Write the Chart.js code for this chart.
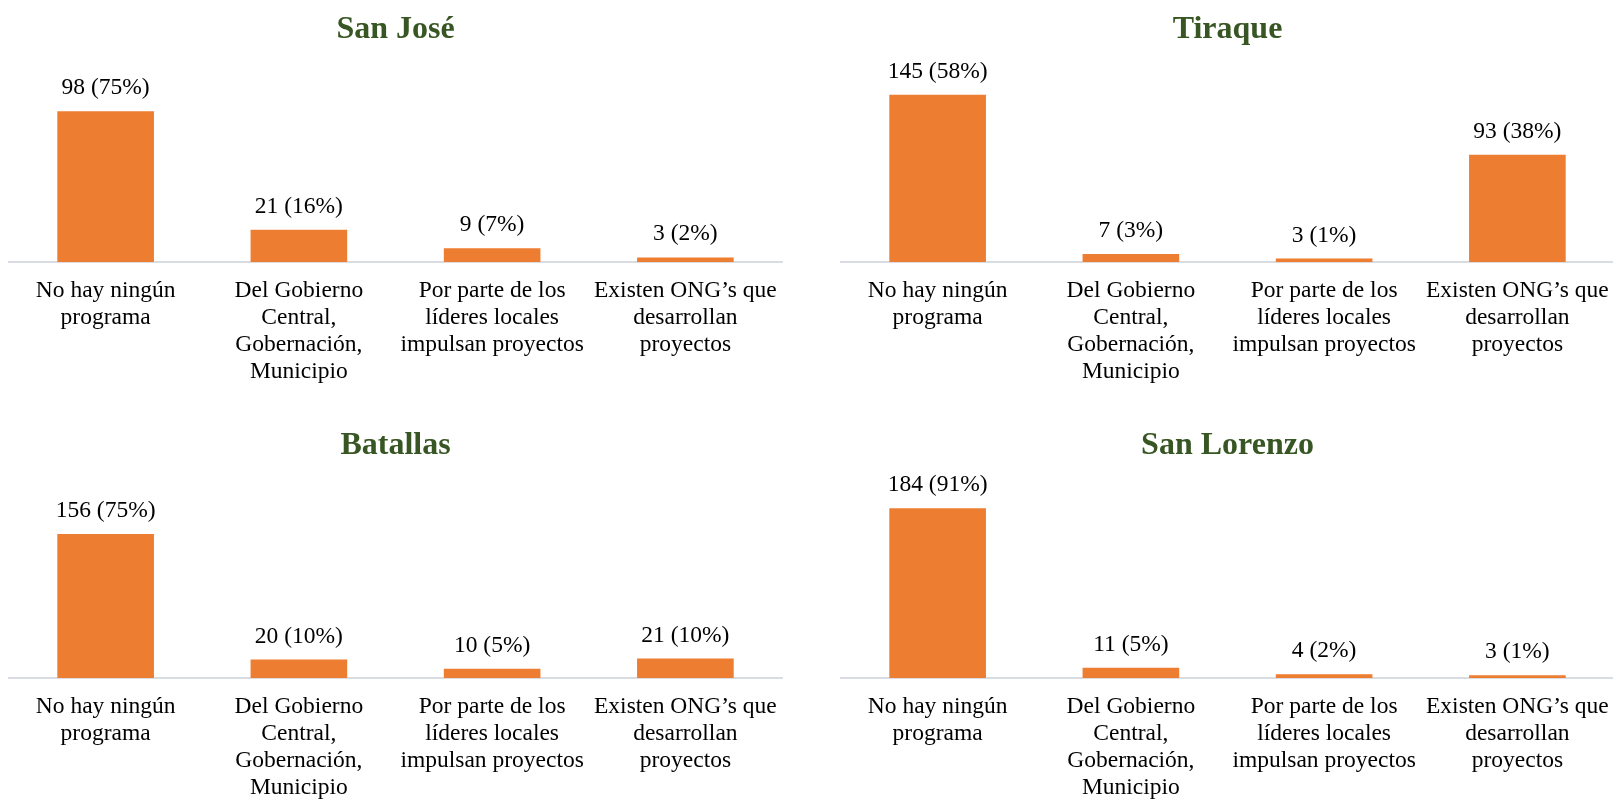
<!DOCTYPE html>
<html>
<head>
<meta charset="utf-8">
<script src="https://cdn.jsdelivr.net/npm/chart.js@4.4.1/dist/chart.umd.min.js"></script>
<style>
  html, body { margin: 0; padding: 0; background: #fff; width: 1613px; height: 800px; overflow: hidden; }
  canvas { position: absolute; }
  #c1 { left: 0; top: 0; }
  #c2 { left: 832px; top: 0; }
  #c3 { left: 0; top: 416px; }
  #c4 { left: 832px; top: 416px; }
</style>
</head>
<body>
<canvas id="c1" width="806" height="400"></canvas>
<canvas id="c2" width="806" height="400"></canvas>
<canvas id="c3" width="806" height="400"></canvas>
<canvas id="c4" width="806" height="400"></canvas>

<script>
// Data
const categories = [
    ['No hay ningún', 'programa'],
    ['Del Gobierno', 'Central,', 'Gobernación,', 'Municipio'],
    ['Por parte de los', 'líderes locales', 'impulsan proyectos'],
    ['Existen ONG’s que', 'desarrollan', 'proyectos']
];

const titles = ['San José', 'Tiraque', 'Batallas', 'San Lorenzo'];

const sanJoseValues = [98, 21, 9, 3];
const sanJosePct = [75, 16, 7, 2];

const tiraqueValues = [145, 7, 3, 93];
const tiraquePct = [58, 3, 1, 38];

const batallasValues = [156, 20, 10, 21];
const batallasPct = [75, 10, 5, 10];

const sanLorenzoValues = [184, 11, 4, 3];
const sanLorenzoPct = [91, 5, 2, 1];

// y axis maximum of each panel
const axisMax = [120, 160, 200, 200];

const ORANGE = '#ed7d31';
const GREEN = '#375623';
const SERIF = "'Liberation Serif', 'Times New Roman', serif";

// draws "n (p%)" above each bar
const valueLabels = {
    id: 'valueLabels',
    afterDatasetsDraw(chart) {
        const ctx = chart.ctx;
        const pct = chart.options.plugins.valueLabels.pct;
        const meta = chart.getDatasetMeta(0);
        const data = chart.data.datasets[0].data;
        ctx.save();
        ctx.font = '23.5px ' + SERIF;
        ctx.fillStyle = '#000';
        ctx.textAlign = 'center';
        ctx.textBaseline = 'alphabetic';
        meta.data.forEach((bar, i) => {
            ctx.fillText(data[i] + ' (' + pct[i] + '%)', bar.x, bar.y - 17);
        });
        ctx.restore();
    }
};

function makeChart(id, title, values, pct, max) {
    const ctx = document.getElementById(id).getContext('2d');
    return new Chart(ctx, {
        type: 'bar',
        data: {
            labels: categories,
            datasets: [{
                data: values,
                backgroundColor: ORANGE,
                borderWidth: 0,
                categoryPercentage: 1.0,
                barPercentage: 0.5
            }]
        },
        options: {
            responsive: false,
            animation: false,
            devicePixelRatio: 1,
            layout: { padding: { left: 9, right: 24, top: 0, bottom: 0 } },
            plugins: {
                legend: { display: false },
                tooltip: { enabled: false },
                title: {
                    display: true,
                    text: title,
                    color: GREEN,
                    font: { family: SERIF, size: 32, weight: 'bold', lineHeight: 1.2 },
                    padding: { top: 11, bottom: 28 }
                },
                valueLabels: { pct: pct }
            },
            scales: {
                x: {
                    grid: { display: false, drawTicks: false, tickLength: 0 },
                    border: { display: true, color: '#d9dde3', width: 2 },
                    ticks: {
                        color: '#000',
                        font: { family: SERIF, size: 23.5, lineHeight: 1.155 },
                        padding: 15,
                        maxRotation: 0,
                        minRotation: 0,
                        autoSkip: false
                    },
                    afterFit(scale) { scale.height = 138; }
                },
                y: {
                    display: false,
                    min: 0,
                    max: max
                }
            }
        },
        plugins: [valueLabels]
    });
}

makeChart('c1', titles[0], sanJoseValues, sanJosePct, axisMax[0]);
makeChart('c2', titles[1], tiraqueValues, tiraquePct, axisMax[1]);
makeChart('c3', titles[2], batallasValues, batallasPct, axisMax[2]);
makeChart('c4', titles[3], sanLorenzoValues, sanLorenzoPct, axisMax[3]);
</script>
</body>
</html>
